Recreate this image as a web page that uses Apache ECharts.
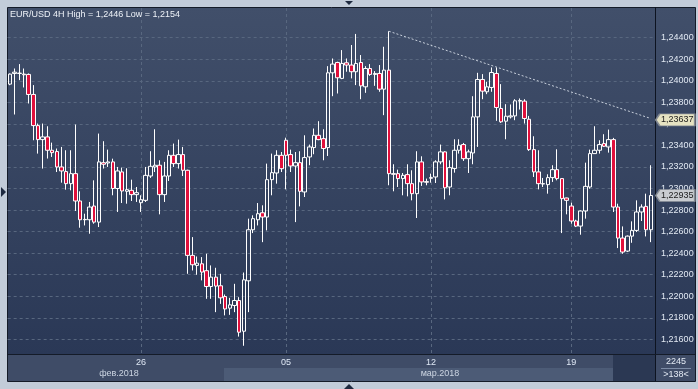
<!DOCTYPE html>
<html><head><meta charset="utf-8">
<script src="https://cdn.jsdelivr.net/npm/echarts@6/dist/echarts.min.js"></script>
<style>html,body{margin:0;padding:0;background:#c2ccd9;overflow:hidden}#c{width:698px;height:389px}</style>
</head><body><div id="c"></div>
<script>
// EUR/USD 4H candles
const open = [1.23969,1.24068,1.24068,1.24062,1.24059,1.23873,1.23584,1.23454,1.23479,1.23355,1.23343,1.23200,1.23157,1.23045,1.23138,1.22884,1.22713,1.22710,1.22837,1.22688,1.23240,1.23237,1.23247,1.23000,1.23154,1.22974,1.22983,1.22943,1.22868,1.22890,1.23116,1.23200,1.23216,1.22943,1.23116,1.23308,1.23231,1.23315,1.23169,1.22379,1.22286,1.22301,1.22237,1.22090,1.22177,1.22097,1.21997,1.21889,1.21914,1.21960,1.21675,1.22143,1.22617,1.22710,1.22775,1.22735,1.23082,1.23144,1.23308,1.23448,1.23315,1.23209,1.23240,1.22968,1.23293,1.23380,1.23494,1.23463,1.23380,1.24074,1.24170,1.24022,1.24167,1.24146,1.24084,1.24170,1.23944,1.24114,1.24059,1.24068,1.23922,1.24099,1.23138,1.23138,1.23092,1.23129,1.23045,1.22952,1.23247,1.23064,1.23095,1.23107,1.23247,1.23340,1.23014,1.23185,1.23355,1.23408,1.23277,1.23330,1.23665,1.24012,1.23898,1.23938,1.24068,1.23743,1.23625,1.23665,1.23674,1.23811,1.23811,1.23643,1.23361,1.23154,1.23045,1.23036,1.23101,1.23175,1.23092,1.22912,1.22837,1.22698,1.22651,1.22791,1.23014,1.23324,1.23355,1.23417,1.23386,1.23454,1.22828,1.22540,1.22419,1.22558,1.22611,1.22782,1.22834,1.22617];
const close = [1.24062,1.24080,1.24071,1.24056,1.23873,1.23584,1.23454,1.23479,1.23355,1.23333,1.23200,1.23163,1.23045,1.23138,1.22884,1.22710,1.22710,1.22828,1.22688,1.23247,1.23225,1.23247,1.23000,1.23163,1.22977,1.22989,1.22943,1.22961,1.22896,1.23122,1.23206,1.23216,1.22943,1.23116,1.23308,1.23231,1.23315,1.23169,1.22379,1.22292,1.22307,1.22224,1.22090,1.22177,1.22094,1.21985,1.21882,1.21920,1.21960,1.21666,1.22152,1.22617,1.22720,1.22766,1.22735,1.23082,1.23147,1.23308,1.23184,1.23308,1.23209,1.23240,1.22974,1.23287,1.23386,1.23494,1.23454,1.23371,1.24074,1.24155,1.24028,1.24161,1.24146,1.24084,1.24161,1.23953,1.24114,1.24059,1.24068,1.23922,1.24099,1.23138,1.23132,1.23092,1.23122,1.23045,1.22952,1.23247,1.23061,1.23058,1.23101,1.23247,1.23340,1.23007,1.23194,1.23355,1.23402,1.23277,1.23340,1.23665,1.24012,1.23904,1.23944,1.24077,1.23752,1.23619,1.23671,1.23674,1.23814,1.23817,1.23650,1.23361,1.23154,1.23045,1.23042,1.23101,1.23175,1.23092,1.22906,1.22890,1.22698,1.22651,1.22791,1.23020,1.23324,1.23355,1.23408,1.23392,1.23454,1.22828,1.22540,1.22410,1.22558,1.22611,1.22782,1.22828,1.22617,1.22935];
const high = [1.24068,1.24114,1.24155,1.24114,1.24068,1.23960,1.23603,1.23603,1.23578,1.23426,1.23371,1.23386,1.23355,1.23355,1.23594,1.22974,1.22766,1.22875,1.23076,1.23510,1.23439,1.23361,1.23277,1.23200,1.23194,1.23188,1.23082,1.23014,1.22937,1.23200,1.23346,1.23550,1.23262,1.23247,1.23355,1.23417,1.23454,1.23386,1.23175,1.22549,1.22369,1.22363,1.22394,1.22286,1.22264,1.22208,1.22016,1.21985,1.22115,1.21991,1.22220,1.22720,1.22751,1.22865,1.22844,1.23231,1.23324,1.23355,1.23339,1.23472,1.23361,1.23339,1.23346,1.23494,1.23408,1.23557,1.23625,1.23550,1.24136,1.24207,1.24177,1.24285,1.24207,1.24332,1.24435,1.24239,1.24136,1.24155,1.24090,1.24146,1.24316,1.24460,1.23225,1.23175,1.23144,1.23225,1.23169,1.23346,1.23299,1.23092,1.23138,1.23262,1.23408,1.23346,1.23262,1.23457,1.23457,1.23423,1.23361,1.23857,1.24074,1.24062,1.23991,1.24124,1.24124,1.23969,1.23783,1.23780,1.23829,1.23836,1.23829,1.23674,1.23485,1.23355,1.23098,1.23132,1.23216,1.23364,1.23092,1.22915,1.22868,1.22710,1.22797,1.23240,1.23361,1.23578,1.23448,1.23504,1.23547,1.23470,1.22859,1.22648,1.22564,1.22695,1.22890,1.22853,1.22952,1.23216];
const low = [1.23959,1.23687,1.24006,1.23938,1.23789,1.23448,1.23324,1.23185,1.23278,1.23293,1.23153,1.23054,1.22989,1.22983,1.22791,1.22636,1.22657,1.22580,1.22673,1.22642,1.23185,1.23200,1.22937,1.22782,1.22865,1.22859,1.22884,1.22875,1.22782,1.22875,1.23098,1.23153,1.22760,1.22875,1.23070,1.23200,1.23185,1.23116,1.22208,1.22239,1.22199,1.22147,1.21976,1.21976,1.21852,1.21929,1.21822,1.21827,1.21852,1.21625,1.21540,1.21852,1.22586,1.22657,1.22502,1.22611,1.22937,1.23045,1.23153,1.22992,1.23153,1.22688,1.22834,1.22921,1.23216,1.23318,1.23448,1.23262,1.23302,1.23857,1.23882,1.24015,1.24084,1.24022,1.23960,1.23829,1.23888,1.24046,1.23953,1.23898,1.23681,1.23030,1.22974,1.23014,1.22937,1.22927,1.22890,1.22726,1.23024,1.23030,1.23054,1.23051,1.23225,1.22899,1.22937,1.23147,1.23324,1.23256,1.23144,1.23225,1.23386,1.23829,1.23876,1.23898,1.23628,1.23609,1.23457,1.23650,1.23634,1.23733,1.23603,1.23349,1.23107,1.22992,1.23014,1.22952,1.23061,1.23076,1.22586,1.22760,1.22673,1.22642,1.22571,1.22720,1.22998,1.23324,1.23324,1.23386,1.23333,1.22782,1.22447,1.22394,1.22410,1.22496,1.22596,1.22698,1.22555,1.22502];

// x-axis week ticks (candle index) and their labels
const weekTickIndex = [28, 59, 90, 120];
const weekTickLabels = ['26', '05', '12', '19'];
const monthLabels = ['фев.2018', 'мар.2018'];

// trend line (from the top high to the right edge)
const trendX = [81, 137];
const trendY = [1.2446, 1.2365];

// price tags on the right scale
const tagValues = [1.23637, 1.22935];

const titleText = 'EUR/USD 4H High = 1,2446 Low = 1,2154';
const infoTexts = ['2245', '>138<'];

const FONT = '"Liberation Sans", Arial, sans-serif';
const categories = open.map((_, i) => String(i));
const candleData = open.map((o, i) => [o, close[i], low[i], high[i]]);
const fmt = v => v.toFixed(5).replace('.', ',');
const gridDash = { color: '#58677f', type: [3, 3], width: 1 };
const bgGrad = new echarts.graphic.LinearGradient(0, 0, 0, 1, [
  { offset: 0, color: '#414f6a' }, { offset: 1, color: '#2a3856' }]);
const tagBg = ['#e6e3c2', '#c9ccd0'];
const lastCat = categories[categories.length - 1];

const chart = echarts.init(document.getElementById('c'), null, { width: 698, height: 389 });
chart.setOption({
  animation: false,
  backgroundColor: '#c2ccd9',
  title: {
    text: titleText, left: 10, top: 10, padding: 0,
    textStyle: { color: '#eef2f8', fontSize: 9, fontWeight: 'normal', fontFamily: FONT }
  },
  grid: [
    { left: 7.66, right: 44.9, top: 37.7, bottom: 49.7 },
    { left: 10, right: 47.25, top: 8, bottom: 35 }
  ],
  xAxis: [
    { type: 'category', gridIndex: 0, data: categories, boundaryGap: true, show: false },
    {
      type: 'category', gridIndex: 1, data: categories, boundaryGap: false,
      axisLine: { show: false }, axisTick: { show: false },
      axisLabel: {
        interval: (i) => weekTickIndex.includes(i),
        formatter: (v) => { const k = weekTickIndex.indexOf(Number(v)); return k >= 0 ? weekTickLabels[k] : ''; },
        margin: 4, color: '#dfe8f5', fontSize: 9, fontFamily: FONT
      },
      splitLine: { show: true, interval: (i) => weekTickIndex.includes(i), lineStyle: gridDash }
    }
  ],
  yAxis: [
    {
      type: 'value', gridIndex: 0, position: 'right', min: 1.216, max: 1.244, interval: 0.002,
      axisLine: { show: false }, axisTick: { show: false },
      axisLabel: { margin: 8, formatter: fmt, color: '#e2e9f3', fontSize: 9, fontFamily: FONT },
      splitLine: { show: true, lineStyle: gridDash }
    },
    { type: 'value', gridIndex: 1, min: 0, max: 1, show: false }
  ],
  series: [
    {
      type: 'candlestick', xAxisIndex: 0, yAxisIndex: 0, data: candleData,
      barWidth: 4, clip: false,
      itemStyle: { color: 'rgba(0,0,0,0)', color0: '#e0103c', borderColor: '#ffffff', borderColor0: '#ffffff', borderWidth: 1 },
      markPoint: {
        silent: true, animation: false,
        symbol: 'path://M0,6 L4,0 L39,0 L39,12 L4,12 Z',
        symbolSize: [39, 12], symbolOffset: [24.5, 0],
        data: tagValues.map((v, i) => ({
          coord: [lastCat, v],
          itemStyle: { color: tagBg[i], borderColor: '#858b93', borderWidth: 1 },
          label: {
            show: true, position: 'inside', offset: [2, 0], formatter: fmt(v),
            color: '#1c1c1c', fontSize: 9, fontFamily: FONT
          }
        }))
      }
    },
    {
      type: 'line', xAxisIndex: 0, yAxisIndex: 0, clip: false, symbol: 'none', silent: true,
      data: trendX.map((x, i) => [x, trendY[i]]),
      lineStyle: { color: '#c8d0dc', width: 1, type: [2, 2] }
    }
  ],
  graphic: { elements: [
    { type: 'rect', z: -10, shape: { x: 7.5, y: 7.5, width: 648, height: 347 }, style: { fill: bgGrad, stroke: '#141b28', lineWidth: 1 } },
    { type: 'rect', z: -10, shape: { x: 655.5, y: 7.5, width: 40, height: 347 }, style: { fill: bgGrad, stroke: '#141b28', lineWidth: 1 } },
    { type: 'rect', z: -9, shape: { x: 8, y: 355, width: 647, height: 26 }, style: { fill: '#3f4c67' } },
    { type: 'rect', z: -9, shape: { x: 224, y: 368, width: 389, height: 13 }, style: { fill: '#4c5b76' } },
    { type: 'rect', z: -9, shape: { x: 613, y: 355, width: 42, height: 26 }, style: { fill: '#2b3853' } },
    { type: 'rect', z: -9, shape: { x: 656, y: 355, width: 39, height: 26 }, style: { fill: '#3f4c67' } },
    { type: 'line', z: -8, shape: { x1: 661, y1: 368.5, x2: 691, y2: 368.5 }, style: { stroke: '#7d8ca6', lineWidth: 1 } },
    { type: 'line', z: -8, shape: { x1: 7, y1: 354.5, x2: 696, y2: 354.5 }, style: { stroke: '#0d1320', lineWidth: 1 } },
    { type: 'line', z: -8, shape: { x1: 655.5, y1: 7, x2: 655.5, y2: 381 }, style: { stroke: '#0d1320', lineWidth: 1 } },
    { type: 'rect', z: -8, shape: { x: 7.5, y: 354.5, width: 688, height: 27 }, style: { fill: 'none', stroke: '#141b28', lineWidth: 1 } },
    { type: 'text', z: 50, x: 119, y: 374, style: { text: monthLabels[0], fill: '#ccd5e2', font: '9px ' + FONT, align: 'center', verticalAlign: 'middle' } },
    { type: 'text', z: 50, x: 440, y: 374, style: { text: monthLabels[1], fill: '#ccd5e2', font: '9px ' + FONT, align: 'center', verticalAlign: 'middle' } },
    { type: 'text', z: 50, x: 676, y: 362, style: { text: infoTexts[0], fill: '#e2e9f3', font: '9px ' + FONT, align: 'center', verticalAlign: 'middle' } },
    { type: 'text', z: 50, x: 676, y: 374.5, style: { text: infoTexts[1], fill: '#e2e9f3', font: '9px ' + FONT, align: 'center', verticalAlign: 'middle' } },
    { type: 'polygon', z: 50, shape: { points: [[345, 1], [353, 1], [349, 5]] }, style: { fill: '#1e2a40' } },
    { type: 'polygon', z: 50, shape: { points: [[344, 389], [354, 389], [349, 384]] }, style: { fill: '#1e2a40' } },
    { type: 'polygon', z: 50, shape: { points: [[1, 187], [1, 197], [6, 192]] }, style: { fill: '#1e2a40' } }
  ] }
});
</script>
</body></html>
